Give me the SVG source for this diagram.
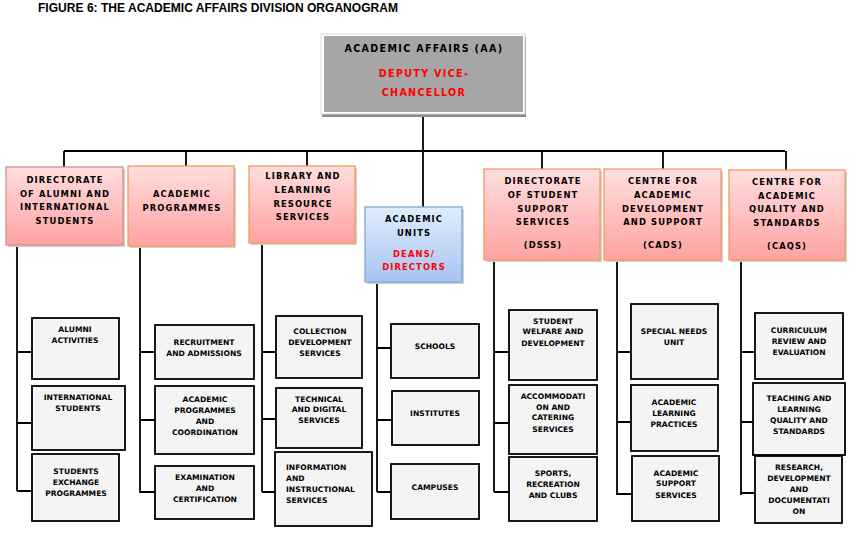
<svg xmlns="http://www.w3.org/2000/svg" width="857" height="541" viewBox="0 0 857 541">
<defs>
<linearGradient id="pink" x1="0" y1="0" x2="0" y2="1"><stop offset="0" stop-color="#ffdede"/><stop offset="1" stop-color="#ffa2a2"/></linearGradient>
<linearGradient id="blue" x1="0" y1="0" x2="0" y2="1"><stop offset="0" stop-color="#e0ecfc"/><stop offset="1" stop-color="#a6c4f2"/></linearGradient>
<style>
.title{font-family:"Liberation Sans",Arial,sans-serif;font-weight:bold;font-size:12px;fill:#000}
.hd{font-family:"DejaVu Sans",Verdana,sans-serif;font-weight:bold;font-size:8.4px;letter-spacing:1.1px;text-anchor:middle;fill:#000}
.top{font-family:"DejaVu Sans",Verdana,sans-serif;font-weight:bold;font-size:9.6px;letter-spacing:1.3px;text-anchor:middle;fill:#000}
.red{fill:#ff0000}
.lf{font-family:"DejaVu Sans",Verdana,sans-serif;font-weight:bold;font-size:7.6px;text-anchor:middle;fill:#000}
.lfl{font-family:"DejaVu Sans",Verdana,sans-serif;font-weight:bold;font-size:7.6px;text-anchor:start;fill:#000}
.p1{fill:url(#pink);stroke:#d98e8e;stroke-width:1.3}
.p2{fill:url(#pink);stroke:#f39a5c;stroke-width:1.3}
.bl{fill:url(#blue);stroke:#7ea6da;stroke-width:1.3}
.sh{fill:#d0d0d0}
.leaf{fill:#f4f4f4;stroke:#000;stroke-width:1.8}
.ln{stroke:#000;stroke-width:1.8;fill:none}
</style>
</defs>
<rect width="857" height="541" fill="#ffffff"/>
<text class="title" x="38" y="12" textLength="360" lengthAdjust="spacingAndGlyphs">FIGURE 6: THE ACADEMIC AFFAIRS DIVISION ORGANOGRAM</text>

<g id="connectors">
<path class="ln" d="M423,117 V207"/>
<path class="ln" d="M64,151 H785"/>
<path class="ln" d="M64,151 V167 M186,151 V166 M307,151 V166 M542,151 V169 M663,151 V169 M786,151 V170"/>
<path class="ln" d="M17,245 V491 M17,352 H32 M17,423 H32 M17,491 H32"/>
<path class="ln" d="M140,246 V493 M140,352 H155 M140,420 H155 M140,492 H155"/>
<path class="ln" d="M262,243 V492 M262,352 H276 M262,419 H276 M262,492 H275"/>
<path class="ln" d="M377,282 V492 M377,348 H391 M377,420 H392 M377,492 H391"/>
<path class="ln" d="M494,260 V492 M494,352 H509 M494,423 H509 M494,492 H509"/>
<path class="ln" d="M617,260 V495 M617,352 H631 M617,422 H631 M617,494 H632"/>
<path class="ln" d="M741,260 V495 M741,352 H755 M741,422 H753 M741,493 H755"/>
</g>

<g id="aa">
<rect x="322" y="37" width="204" height="80" fill="#8c8c8c"/>
<rect x="321" y="34" width="204" height="80" fill="#ffffff" stroke="#d8d8d8" stroke-width="1"/>
<rect x="324" y="36" width="199" height="76" fill="#a6a6a6"/>
<text class="top" x="424" y="52">ACADEMIC AFFAIRS (AA)</text>
<text class="top red" x="424" y="77">DEPUTY VICE-</text>
<text class="top red" x="424" y="96">CHANCELLOR</text>
</g>

<g id="alumni">
<rect class="sh" x="8" y="169" width="117" height="78"/>
<rect class="p1" x="6" y="167" width="117" height="78"/>
<text class="hd" x="65" y="183">DIRECTORATE</text>
<text class="hd" x="65" y="197">OF ALUMNI AND</text>
<text class="hd" x="65" y="210">INTERNATIONAL</text>
<text class="hd" x="65" y="224">STUDENTS</text>
</g>
<g id="acprog">
<rect class="sh" x="130" y="168" width="106" height="80"/>
<rect class="p2" x="128" y="166" width="106" height="80"/>
<text class="hd" x="182" y="197">ACADEMIC</text>
<text class="hd" x="182" y="211">PROGRAMMES</text>
</g>
<g id="library">
<rect class="sh" x="251" y="168" width="106" height="77"/>
<rect class="p2" x="249" y="166" width="106" height="77"/>
<text class="hd" x="303" y="179">LIBRARY AND</text>
<text class="hd" x="303" y="193">LEARNING</text>
<text class="hd" x="303" y="207">RESOURCE</text>
<text class="hd" x="303" y="220">SERVICES</text>
</g>
<g id="units">
<rect class="sh" x="367" y="209" width="97" height="75"/>
<rect class="bl" x="365" y="207" width="97" height="75"/>
<text class="hd" x="414" y="222">ACADEMIC</text>
<text class="hd" x="414" y="236">UNITS</text>
<text class="hd red" x="414" y="257">DEANS/</text>
<text class="hd red" x="414" y="270">DIRECTORS</text>
</g>
<g id="dsss">
<rect class="sh" x="486" y="171" width="116" height="91"/>
<rect class="p2" x="484" y="169" width="116" height="91"/>
<text class="hd" x="543" y="184">DIRECTORATE</text>
<text class="hd" x="543" y="198">OF STUDENT</text>
<text class="hd" x="543" y="212">SUPPORT</text>
<text class="hd" x="543" y="225">SERVICES</text>
<text class="hd" x="543" y="248">(DSSS)</text>
</g>
<g id="cads">
<rect class="sh" x="606" y="171" width="117" height="91"/>
<rect class="p2" x="604" y="169" width="117" height="91"/>
<text class="hd" x="663" y="184">CENTRE FOR</text>
<text class="hd" x="663" y="198">ACADEMIC</text>
<text class="hd" x="663" y="212">DEVELOPMENT</text>
<text class="hd" x="663" y="225">AND SUPPORT</text>
<text class="hd" x="663" y="248">(CADS)</text>
</g>
<g id="caqs">
<rect class="sh" x="731" y="172" width="116" height="90"/>
<rect class="p2" x="729" y="170" width="116" height="90"/>
<text class="hd" x="787" y="185">CENTRE FOR</text>
<text class="hd" x="787" y="199">ACADEMIC</text>
<text class="hd" x="787" y="212">QUALITY AND</text>
<text class="hd" x="787" y="226">STANDARDS</text>
<text class="hd" x="787" y="249">(CAQS)</text>
</g>

<g id="alumni-activities"><rect class="leaf" x="32" y="318" width="87" height="61"/>
<text class="lf" x="75" y="332">ALUMNI</text><text class="lf" x="75" y="343">ACTIVITIES</text></g>
<g id="intl-students"><rect class="leaf" x="32" y="386" width="93" height="64"/>
<text class="lf" x="78" y="400">INTERNATIONAL</text><text class="lf" x="78" y="411">STUDENTS</text></g>
<g id="exchange"><rect class="leaf" x="32" y="454" width="87" height="67"/>
<text class="lf" x="76" y="474">STUDENTS</text><text class="lf" x="76" y="485">EXCHANGE</text><text class="lf" x="76" y="496">PROGRAMMES</text></g>

<g id="recruitment"><rect class="leaf" x="155" y="325" width="99" height="54"/>
<text class="lf" x="204" y="345">RECRUITMENT</text><text class="lf" x="204" y="356">AND ADMISSIONS</text></g>
<g id="coordination"><rect class="leaf" x="155" y="386" width="99" height="68"/>
<text class="lf" x="205" y="402">ACADEMIC</text><text class="lf" x="205" y="413">PROGRAMMES</text><text class="lf" x="205" y="424">AND</text><text class="lf" x="205" y="435">COORDINATION</text></g>
<g id="examination"><rect class="leaf" x="155" y="466" width="99" height="53"/>
<text class="lf" x="205" y="480">EXAMINATION</text><text class="lf" x="205" y="491">AND</text><text class="lf" x="205" y="502">CERTIFICATION</text></g>

<g id="collection"><rect class="leaf" x="276" y="316" width="86" height="62"/>
<text class="lf" x="320" y="334">COLLECTION</text><text class="lf" x="320" y="345">DEVELOPMENT</text><text class="lf" x="320" y="356">SERVICES</text></g>
<g id="technical"><rect class="leaf" x="276" y="388" width="86" height="60"/>
<text class="lf" x="319" y="402">TECHNICAL</text><text class="lf" x="319" y="412">AND DIGITAL</text><text class="lf" x="319" y="423">SERVICES</text></g>
<g id="information"><rect class="leaf" x="275" y="452" width="97" height="74"/>
<text class="lfl" x="286" y="470">INFORMATION</text><text class="lfl" x="286" y="481">AND</text><text class="lfl" x="286" y="492">INSTRUCTIONAL</text><text class="lfl" x="286" y="503">SERVICES</text></g>

<g id="schools"><rect class="leaf" x="391" y="324" width="88" height="54"/>
<text class="lf" x="435" y="349">SCHOOLS</text></g>
<g id="institutes"><rect class="leaf" x="392" y="391" width="87" height="54"/>
<text class="lf" x="435" y="416">INSTITUTES</text></g>
<g id="campuses"><rect class="leaf" x="391" y="464" width="88" height="55"/>
<text class="lf" x="435" y="490">CAMPUSES</text></g>

<g id="welfare"><rect class="leaf" x="509" y="310" width="88" height="70"/>
<text class="lf" x="553" y="324">STUDENT</text><text class="lf" x="553" y="334">WELFARE AND</text><text class="lf" x="553" y="346">DEVELOPMENT</text></g>
<g id="accommodation"><rect class="leaf" x="509" y="385" width="88" height="69"/>
<text class="lf" x="553" y="399">ACCOMMODATI</text><text class="lf" x="553" y="410">ON AND</text><text class="lf" x="553" y="420">CATERING</text><text class="lf" x="553" y="432">SERVICES</text></g>
<g id="sports"><rect class="leaf" x="509" y="457" width="88" height="64"/>
<text class="lf" x="553" y="476">SPORTS,</text><text class="lf" x="553" y="487">RECREATION</text><text class="lf" x="553" y="498">AND CLUBS</text></g>

<g id="special-needs"><rect class="leaf" x="631" y="304" width="87" height="75"/>
<text class="lf" x="674" y="334">SPECIAL NEEDS</text><text class="lf" x="674" y="345">UNIT</text></g>
<g id="learning-practices"><rect class="leaf" x="631" y="385" width="87" height="66"/>
<text class="lf" x="674" y="405">ACADEMIC</text><text class="lf" x="674" y="416">LEARNING</text><text class="lf" x="674" y="427">PRACTICES</text></g>
<g id="support-services"><rect class="leaf" x="632" y="456" width="87" height="65"/>
<text class="lf" x="676" y="476">ACADEMIC</text><text class="lf" x="676" y="486">SUPPORT</text><text class="lf" x="676" y="498">SERVICES</text></g>

<g id="curriculum"><rect class="leaf" x="755" y="313" width="88" height="66"/>
<text class="lf" x="799" y="333">CURRICULUM</text><text class="lf" x="799" y="344">REVIEW AND</text><text class="lf" x="799" y="355">EVALUATION</text></g>
<g id="teaching"><rect class="leaf" x="753" y="383" width="92" height="72"/>
<text class="lf" x="799" y="401">TEACHING AND</text><text class="lf" x="799" y="412">LEARNING</text><text class="lf" x="799" y="423">QUALITY AND</text><text class="lf" x="799" y="434">STANDARDS</text></g>
<g id="research"><rect class="leaf" x="755" y="456" width="87" height="67"/>
<text class="lf" x="799" y="470">RESEARCH,</text><text class="lf" x="799" y="481">DEVELOPMENT</text><text class="lf" x="799" y="492">AND</text><text class="lf" x="799" y="503">DOCUMENTATI</text><text class="lf" x="799" y="514">ON</text></g>
</svg>
